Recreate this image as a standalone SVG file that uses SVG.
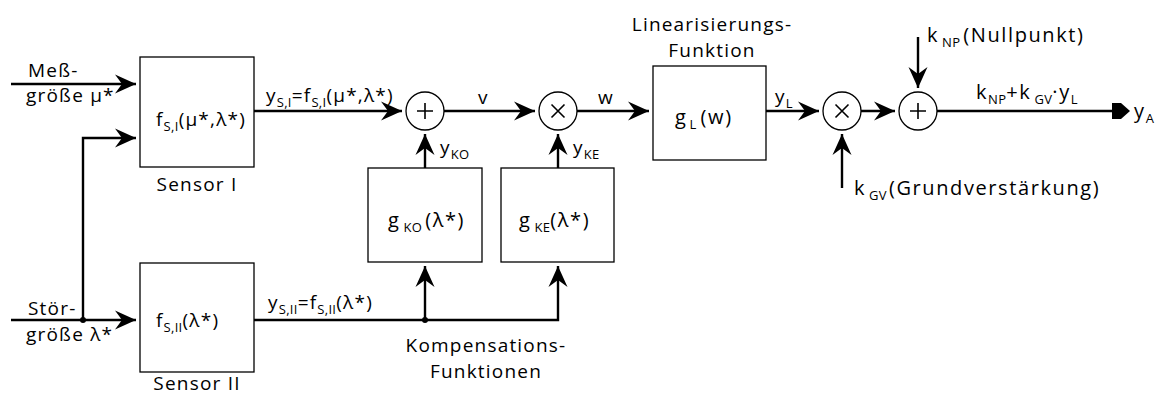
<svg xmlns="http://www.w3.org/2000/svg" width="1157" height="398" viewBox="0 0 1157 398">
  <style>
    text { font-family: "Open Sans", "DejaVu Sans", sans-serif; font-size: 19px; fill: #000; letter-spacing: 1.2px; }
    .big { font-size: 20px; letter-spacing: 1.6px; }
    .sub { font-size: 13px; letter-spacing: 0.3px; }
    .mid { text-anchor: middle; }
    .box { fill: #fff; stroke: #000; stroke-width: 1.3; }
    .op { fill: #fff; stroke: #000; stroke-width: 1.3; }
    .sym { stroke: #000; stroke-width: 1.6; fill: none; }
    .wire { stroke: #000; stroke-width: 2.4; fill: none; }
    .arr { stroke: #000; stroke-width: 2.4; fill: none; marker-end: url(#head); }
  </style>
  <defs>
    <marker id="head" markerUnits="userSpaceOnUse" markerWidth="23" markerHeight="21" viewBox="0 0 23 21" refX="22" refY="10.5" orient="auto">
      <path d="M22,10.5 L1,1 L8,10.5 L1,20 Z" fill="#000"/>
    </marker>
  </defs>

  <!-- connectors -->
  <g id="connectors">
    <path class="arr" d="M11,84 H136"/>
    <path class="arr" d="M11,320 H136"/>
    <path class="arr" d="M83,320 V138 H136"/>
    <circle cx="83" cy="320" r="3" fill="#000"/>
    <path class="arr" d="M254,111 H402"/>
    <path class="arr" d="M444,111 H535"/>
    <path class="arr" d="M577,111 H649"/>
    <path class="arr" d="M766,111 H819"/>
    <path class="arr" d="M861,111 H895"/>
    <path class="wire" d="M937,111 H1113"/>
    <path d="M1112,103 H1121 L1130,111 L1121,119 H1112 Z" fill="#000"/>
    <path class="arr" d="M425,168 V134"/>
    <path class="arr" d="M558,168 V134"/>
    <path class="arr" d="M254,320 H558 V266"/>
    <path class="arr" d="M425,320 V266"/>
    <circle cx="425" cy="320" r="3" fill="#000"/>
    <path class="arr" d="M918,37 V88"/>
    <path class="arr" d="M842,188 V134"/>
  </g>

  <!-- input labels -->
  <g id="inputs">
    <text x="28" y="77">Meß-</text>
    <text x="26" y="102">größe μ*</text>
    <text x="28" y="315">Stör-</text>
    <text x="26" y="341">größe λ*</text>
  </g>

  <g id="sensor1">
    <rect class="box" x="140" y="57" width="114" height="110"/>
    <text x="156" y="126">f<tspan class="sub" dy="5">S,I</tspan><tspan dy="-5">(μ*,λ*)</tspan></text>
    <text class="mid" x="197" y="191">Sensor I</text>
  </g>

  <g id="sensor2">
    <rect class="box" x="140" y="263" width="114" height="109"/>
    <text x="156" y="327">f<tspan class="sub" dy="5">S,II</tspan><tspan dy="-5">(λ*)</tspan></text>
    <text class="mid" x="197" y="390">Sensor II</text>
  </g>

  <g id="signal-labels">
    <text x="266" y="102">y<tspan class="sub" dy="5">S,I</tspan><tspan dy="-5">=f</tspan><tspan class="sub" dy="5">S,I</tspan><tspan dy="-5">(μ*,λ*)</tspan></text>
    <text x="268" y="309">y<tspan class="sub" dy="5">S,II</tspan><tspan dy="-5">=f</tspan><tspan class="sub" dy="5">S,II</tspan><tspan dy="-5">(λ*)</tspan></text>
    <text x="478" y="104">v</text>
    <text x="598" y="104">w</text>
    <text x="440" y="154">y<tspan class="sub" dy="5">KO</tspan></text>
    <text x="573" y="154">y<tspan class="sub" dy="5">KE</tspan></text>
    <text x="775" y="103">y<tspan class="sub" dy="5">L</tspan></text>
    <text class="big" x="976" y="99">k<tspan class="sub" dy="5">NP</tspan><tspan dy="-5">+k</tspan><tspan class="sub" dy="5" dx="3">GV</tspan><tspan dy="-5">·y</tspan><tspan class="sub" dy="5">L</tspan></text>
    <text class="big" x="1134" y="118">y<tspan class="sub" dy="5">A</tspan></text>
  </g>

  <g id="sum-ko">
    <circle class="op" cx="425" cy="111" r="19"/>
    <path class="sym" d="M417,111 H433 M425,103 V119"/>
  </g>

  <g id="mult-ke">
    <circle class="op" cx="558" cy="111" r="19"/>
    <path class="sym" d="M551.5,104.5 L564.5,117.5 M564.5,104.5 L551.5,117.5"/>
  </g>

  <g id="g-ko">
    <rect class="box" x="368" y="168" width="114" height="94"/>
    <text class="big" x="388" y="227">g<tspan class="sub" dy="5" dx="3">KO</tspan><tspan dy="-5" dx="3">(λ*)</tspan></text>
  </g>

  <g id="g-ke">
    <rect class="box" x="501" y="168" width="113" height="94"/>
    <text class="big" x="519" y="227">g<tspan class="sub" dy="5" dx="3">KE</tspan><tspan dy="-5">(λ*)</tspan></text>
  </g>

  <text class="mid" x="486" y="352">Kompensations-</text>
  <text class="mid" x="486" y="378">Funktionen</text>

  <g id="g-l">
    <rect class="box" x="653" y="66" width="113" height="94"/>
    <text class="big" x="675" y="124">g<tspan class="sub" dy="5" dx="2">L</tspan><tspan dy="-5" dx="4">(w)</tspan></text>
    <text class="mid" x="712" y="31">Linearisierungs-</text>
    <text class="mid" x="712" y="57">Funktion</text>
  </g>

  <g id="mult-gv">
    <circle class="op" cx="842" cy="111" r="19"/>
    <path class="sym" d="M835.5,104.5 L848.5,117.5 M848.5,104.5 L835.5,117.5"/>
  </g>

  <g id="sum-np">
    <circle class="op" cx="918" cy="111" r="19"/>
    <path class="sym" d="M910,111 H926 M918,103 V119"/>
  </g>

  <g id="params">
    <text class="big" x="927" y="42">k<tspan class="sub" dy="5" dx="3">NP</tspan><tspan dy="-5" dx="3">(Nullpunkt)</tspan></text>
    <text class="big" x="854" y="195">k<tspan class="sub" dy="5" dx="3">GV</tspan><tspan dy="-5" dx="2">(Grundverstärkung)</tspan></text>
  </g>
</svg>
